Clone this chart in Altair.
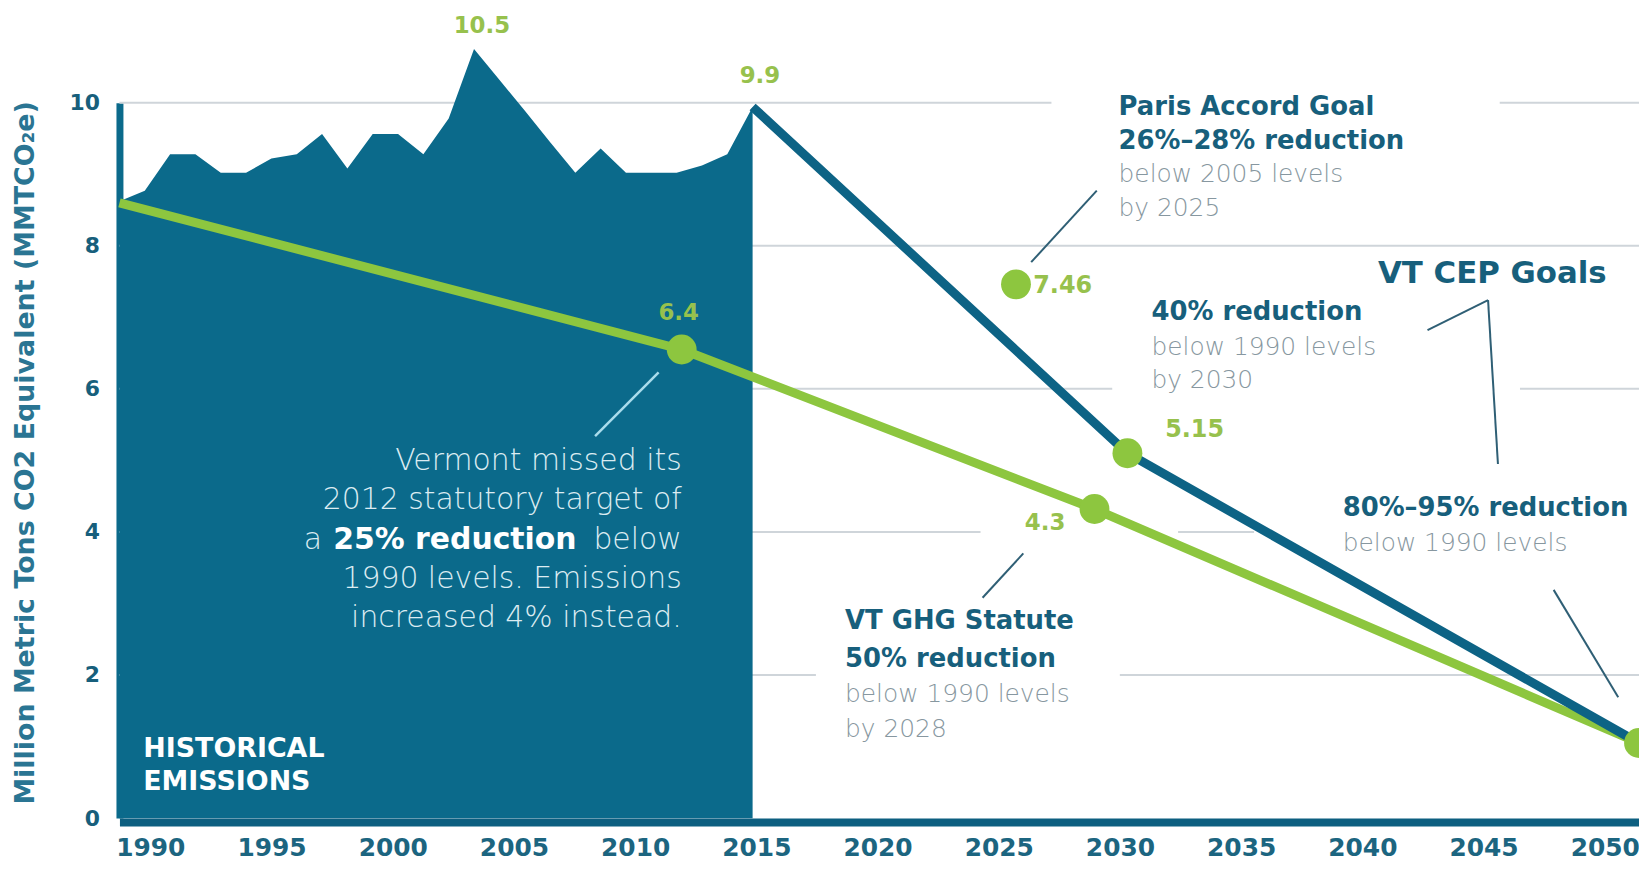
import altair as alt
import pandas as pd

# ---------------- data ----------------
hist_years = list(range(1990, 2016))
hist_values = [8.62, 8.77, 9.28, 9.28, 9.02, 9.02, 9.22, 9.28, 9.56, 9.08,
               9.56, 9.56, 9.28, 9.78, 10.75, 10.32, 9.89, 9.45, 9.02, 9.36,
               9.02, 9.02, 9.02, 9.12, 9.28, 9.94]

target_years = [1990, 2012.2, 2028.5, 2050]      # VT statutory path (green)
target_values = [8.6, 6.55, 4.32, 1.05]

cep_years = [2015, 2029.8, 2050]                  # VT CEP path (blue)
cep_values = [9.94, 5.10, 1.05]

dot_years = [2012.2, 2025.4, 2028.5, 2029.8, 2050]
dot_values = [6.55, 7.46, 4.32, 5.10, 1.05]

tick_years = [1990, 1995, 2000, 2005, 2010, 2015, 2020, 2025, 2030, 2035, 2040, 2045, 2050]
y_ticks = [0, 2, 4, 6, 8, 10]

# gridline pieces (value, from year, to year) - gaps sit behind the text blocks
grid_value = [10, 10, 8, 6, 6, 4, 4, 2, 2]
grid_from = [1990, 2044.5, 1990, 1990, 2045.3, 1990, 2031.8, 1990, 2029.5]
grid_to = [2026.8, 2050, 2050, 2029.2, 2050, 2024.0, 2034.8, 2017.5, 2050]

# annotation texts, anchored in data units (year, value)
green_center_text = ["10.5", "9.9", "6.4", "4.3"]
green_center_x = [2004.31, 2015.29, 2012.08, 2026.55]
green_center_y = [11.07, 10.37, 7.06, 4.12]

green_left_text = ["7.46", "5.15"]
green_left_x = [2026.08, 2031.29]
green_left_y = [7.43, 5.42]

teal_bold_text = ["Paris Accord Goal", "26%–28% reduction", "40% reduction",
                  "80%–95% reduction", "VT GHG Statute", "50% reduction"]
teal_bold_x = [2029.45, 2029.45, 2030.75, 2038.3, 2018.65, 2018.65]
teal_bold_y = [9.94, 9.46, 7.07, 4.33, 2.75, 2.22]

gray_text = ["below 2005 levels", "by 2025", "below 1990 levels", "by 2030",
             "below 1990 levels", "below 1990 levels", "by 2028"]
gray_x = [2029.45, 2029.45, 2030.75, 2030.75, 2038.3, 2018.65, 2018.65]
gray_y = [9.00, 8.53, 6.59, 6.12, 3.84, 1.73, 1.25]

cep_title_text = ["VT CEP Goals"]
cep_title_x = [2039.69]
cep_title_y = [7.61]

vt_light_text = ["Vermont missed its", "2012 statutory target of", "below",
                 "1990 levels. Emissions", "increased 4% instead.", "a"]
vt_light_x = [2012.2, 2012.2, 2012.2, 2012.2, 2012.2, 1998.0]
vt_light_y = [4.99, 4.44, 3.88, 3.34, 2.80, 3.88]

vt_bold_text = ["25% reduction"]
vt_bold_x = [2008.05]
vt_bold_y = [3.88]

hist_text = ["HISTORICAL", "EMISSIONS"]
hist_x = [1990.94, 1990.94]
hist_y = [0.97, 0.51]

# leader lines
lead_x1 = [2026.0, 2044.04, 2044.04, 2046.63, 2025.69]
lead_x2 = [2028.59, 2041.65, 2044.43, 2049.18, 2024.08]
lead_y1 = [7.77, 7.24, 7.24, 3.19, 3.70]
lead_y2 = [8.77, 6.82, 4.95, 1.69, 3.08]

vt_lead_x1 = [2011.29]
vt_lead_x2 = [2008.78]
vt_lead_y1 = [6.23]
vt_lead_y2 = [5.34]

# ---------------- styling ----------------
FONT = "DejaVu Sans"
TEAL = "#0b6a8b"
BLUE = "#0d6385"
GREEN = "#8dc63f"
GREEN_TXT = "#97c14d"
DARK_TXT = "#175f7c"
GRAY_TXT = "#8797a0"
GRID = "#cfd5da"

W, H = 1527, 719

xs = alt.Scale(domain=[1990, 2050], nice=False, zero=False)
ys = alt.Scale(domain=[0, 10], nice=False, zero=False)

y_axis = alt.Axis(
    values=y_ticks, grid=False, ticks=False, domain=True,
    domainColor=TEAL, domainWidth=7,
    labelFont=FONT, labelFontSize=22, labelFontWeight="bold", labelColor=DARK_TXT,
    labelPadding=20,
    title="Million Metric Tons CO2 Equivalent (MMTCO₂e)",
    titleFont=FONT, titleFontSize=27, titleFontWeight="bold", titleColor="#2a7593",
    titleX=-94, titleY=H / 2 - 8, titleAngle=-90, titleAlign="center", titleBaseline="middle",
)


def X(f):
    return alt.X(f, type="quantitative", scale=xs, axis=None)


def Y(f):
    return alt.Y(f, type="quantitative", scale=ys, axis=y_axis)


def df(**cols):
    return pd.DataFrame(cols)


grid = alt.Chart(df(x=grid_from, x2=grid_to, y=grid_value)).mark_rule(
    color=GRID, strokeWidth=2
).encode(x=X("x"), x2="x2", y=Y("y"))

area = alt.Chart(df(x=hist_years, y=hist_values)).mark_area(
    color=TEAL, opacity=1
).encode(x=X("x"), y=Y("y"))

green_line = alt.Chart(df(x=target_years, y=target_values)).mark_line(
    color=GREEN, strokeWidth=9, strokeJoin="round"
).encode(x=X("x"), y=Y("y"))

blue_line = alt.Chart(df(x=cep_years, y=cep_values)).mark_line(
    color=BLUE, strokeWidth=9, strokeJoin="round"
).encode(x=X("x"), y=Y("y"))

dots = alt.Chart(df(x=dot_years, y=dot_values)).mark_circle(
    color=GREEN, size=900, opacity=1
).encode(x=X("x"), y=Y("y"))

leaders = alt.Chart(df(x=lead_x1, x2=lead_x2, y=lead_y1, y2=lead_y2)).mark_rule(
    color="#2f5f75", strokeWidth=2
).encode(x=X("x"), x2="x2", y=Y("y"), y2="y2")

vt_leader = alt.Chart(df(x=vt_lead_x1, x2=vt_lead_x2, y=vt_lead_y1, y2=vt_lead_y2)).mark_rule(
    color="#a9dcec", strokeWidth=2.5
).encode(x=X("x"), x2="x2", y=Y("y"), y2="y2")


def texts(t, x, y, **mk):
    return alt.Chart(df(x=x, y=y, t=t)).mark_text(font=FONT, baseline="middle", **mk).encode(
        x=X("x"), y=Y("y"), text="t:N")


t1 = texts(green_center_text, green_center_x, green_center_y, fontSize=23, fontWeight="bold",
           color=GREEN_TXT, align="center")
t2 = texts(green_left_text, green_left_x, green_left_y, fontSize=24, fontWeight="bold",
           color=GREEN_TXT, align="left")
t3 = texts(teal_bold_text, teal_bold_x, teal_bold_y, fontSize=26, fontWeight="bold",
           color=DARK_TXT, align="left")
t4 = texts(gray_text, gray_x, gray_y, fontSize=25, fontWeight=200, color=GRAY_TXT, align="left")
t5 = texts(cep_title_text, cep_title_x, cep_title_y, fontSize=31, fontWeight="bold",
           color=DARK_TXT, align="left")
t6 = texts(vt_light_text, vt_light_x, vt_light_y, fontSize=30, fontWeight=200,
           color="#dcecf2", align="right")
t7 = texts(vt_bold_text, vt_bold_x, vt_bold_y, fontSize=30, fontWeight="bold",
           color="#ffffff", align="right")
t8 = texts(hist_text, hist_x, hist_y, fontSize=27, fontWeight="bold", color="#ffffff", align="left")

# x-axis labels: the picture spaces them slightly tighter than the data, so they get their own scale
x_label_axis = alt.Axis(
    values=tick_years, format="d", orient="bottom", grid=False, ticks=False,
    domain=True, domainColor="#0d5f80", domainWidth=8, offset=4,
    labelFont=FONT, labelFontSize=25, labelFontWeight="bold", labelColor="#1c6580",
    labelPadding=26, labelBaseline="middle", labelFlush=False, labelOverlap=False,
    title=None, zindex=1,
)
axis_layer = alt.Chart(df(x=tick_years, y=[0] * len(tick_years))).mark_point(opacity=0).encode(
    x=alt.X("x", type="quantitative",
            scale=alt.Scale(domain=[1988.727, 2051.412], nice=False, zero=False),
            axis=x_label_axis),
    y=Y("y"),
)

chart = alt.layer(
    grid, area, vt_leader, green_line, blue_line, dots, leaders,
    t1, t2, t3, t4, t5, t6, t7, t8, axis_layer,
).resolve_scale(x="independent").properties(
    width=W, height=H,
    autosize=alt.AutoSizeParams(type="none"),
    padding={"left": 112, "top": 93, "right": 0, "bottom": 44},
    background="white",
).configure_view(stroke=None)

chart.save("out.html", embed_options={"renderer": "svg", "actions": False})
